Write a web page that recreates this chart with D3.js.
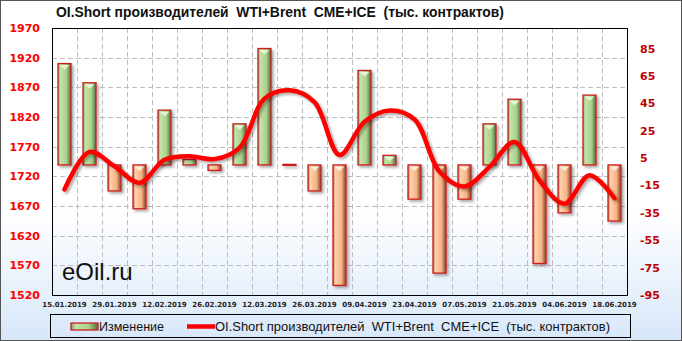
<!DOCTYPE html>
<html>
<head>
<meta charset="utf-8">
<script src="https://cdn.jsdelivr.net/npm/d3@7"></script>
<style>
  html, body { margin: 0; padding: 0; background: #fff; }
  svg { display: block; }
</style>
</head>
<body>
<div id="chart"></div>
<script>
// == DATA ==
const dates = ['15.01.2019', '22.01.2019', '29.01.2019', '05.02.2019', '12.02.2019', '19.02.2019',
  '26.02.2019', '05.03.2019', '12.03.2019', '19.03.2019', '26.03.2019', '02.04.2019', '09.04.2019',
  '16.04.2019', '23.04.2019', '30.04.2019', '07.05.2019', '14.05.2019', '21.05.2019', '28.05.2019',
  '04.06.2019', '11.06.2019', '18.06.2019'];
const change = [74, 60, -19, -32, 40, 4, -4, 30, 85, 0.4, -19, -88, 69, 7, -25, -79, -25, 30, 48, -72, -35, 51, -41];
const oiShort = [1698, 1761, 1737, 1709, 1748, 1754, 1749, 1768, 1851, 1865, 1845, 1756, 1812, 1831,
  1816, 1728, 1703, 1736, 1778, 1713, 1674, 1722, 1683];
const leftTicks = [1520, 1570, 1620, 1670, 1720, 1770, 1820, 1870, 1920, 1970];
const rightTicks = [-95, -75, -55, -35, -15, 5, 25, 45, 65, 85];
const xTickLabels = dates.filter((d, i) => i % 2 === 0);

const TITLE = 'OI.Short производителей  WTI+Brent  CME+ICE  (тыс. контрактов)';

// == CONFIG ==
const W = 682, H = 341;
const PLOT = { left: 52, right: 627, top: 28, bottom: 295 };
const BAR_W = 13;

const svg = d3.select('#chart').append('svg')
  .attr('width', W)
  .attr('height', H);

const defs = svg.append('defs');

const bg = defs.append('linearGradient').attr('id', 'bg').attr('x1', 0).attr('y1', 0).attr('x2', 0).attr('y2', 1);
bg.append('stop').attr('offset', '0%').attr('stop-color', '#ffffff');
bg.append('stop').attr('offset', '62%').attr('stop-color', '#ffffff');
bg.append('stop').attr('offset', '100%').attr('stop-color', '#d7e7f9');

function barGradient(id, edge, light, mid, dark) {
  const g = defs.append('linearGradient').attr('id', id).attr('x1', 0).attr('y1', 0).attr('x2', 1).attr('y2', 0);
  g.append('stop').attr('offset', '0%').attr('stop-color', edge);
  g.append('stop').attr('offset', '18%').attr('stop-color', light);
  g.append('stop').attr('offset', '65%').attr('stop-color', mid);
  g.append('stop').attr('offset', '100%').attr('stop-color', dark);
}
barGradient('gUp', '#7f9f66', '#c2e4a8', '#a9d08b', '#56693f');
barGradient('gDown', '#b5774f', '#ffd0ad', '#f8b384', '#7c4a2e');

const shadow = defs.append('filter').attr('id', 'shadow')
  .attr('x', '-50%').attr('y', '-20%').attr('width', '200%').attr('height', '140%');
shadow.append('feDropShadow')
  .attr('dx', 2).attr('dy', 2).attr('stdDeviation', 1.6)
  .attr('flood-color', '#000').attr('flood-opacity', 0.35);

// background + frame
svg.append('rect').attr('width', W).attr('height', H).attr('fill', 'url(#bg)');
svg.append('rect').attr('x', 0.5).attr('y', 0.5).attr('width', W - 1).attr('height', H - 1)
  .attr('fill', 'none').attr('stroke', '#555');

// == SCALES ==
const x = d3.scaleBand().domain(dates).range([PLOT.left, PLOT.right]).padding(0);
const yL = d3.scaleLinear().domain([1520, 1970]).range([PLOT.bottom, PLOT.top]);
const yR = d3.scaleLinear().domain([-95, 100]).range([PLOT.bottom, PLOT.top]);
const cx = i => x(dates[i]) + x.bandwidth() / 2;

// grid
const grid = svg.append('g')
  .attr('stroke', '#bdbdbd').attr('stroke-dasharray', '5,3').attr('stroke-width', 1);
grid.selectAll('line.h').data(leftTicks.slice(1, -1)).enter().append('line')
  .attr('x1', PLOT.left).attr('x2', PLOT.right)
  .attr('y1', d => Math.round(yL(d)) + 0.5).attr('y2', d => Math.round(yL(d)) + 0.5);
grid.selectAll('line.v').data(dates.slice(1)).enter().append('line')
  .attr('y1', PLOT.top).attr('y2', PLOT.bottom)
  .attr('x1', d => Math.round(x(d)) + 0.5).attr('x2', d => Math.round(x(d)) + 0.5);

// plot border
svg.append('rect')
  .attr('x', PLOT.left + 0.5).attr('y', PLOT.top + 0.5)
  .attr('width', PLOT.right - PLOT.left).attr('height', PLOT.bottom - PLOT.top)
  .attr('fill', 'none').attr('stroke', '#000').attr('stroke-width', 1);

// watermark
svg.append('text')
  .attr('x', 62).attr('y', 280)
  .attr('font-family', 'Liberation Sans, Arial, sans-serif')
  .attr('font-size', '24px')
  .attr('fill', '#111')
  .text('eOil.ru');

// == BARS ==
const barData = change.map((v, i) => ({ v, i }));
const bars = svg.append('g').attr('filter', 'url(#shadow)');
bars.selectAll('rect').data(barData).enter().append('rect')
  .attr('x', d => cx(d.i) - BAR_W / 2)
  .attr('width', BAR_W)
  .attr('y', d => d.v >= 0 ? yR(d.v) : yR(0))
  .attr('height', d => Math.max(1, Math.abs(yR(d.v) - yR(0))))
  .attr('fill', d => d.v >= 0 ? 'url(#gUp)' : 'url(#gDown)')
  .attr('stroke', '#cc1f1f')
  .attr('stroke-width', 1.3);

// small bevel highlight at bar tops
bars.selectAll('path.hl').data(barData.filter(d => Math.abs(yR(d.v) - yR(0)) > 6)).enter().append('path')
  .attr('d', d => {
    const c = cx(d.i);
    const top = d.v >= 0 ? yR(d.v) : yR(0);
    return `M${c - BAR_W / 2 + 1.5},${top + 1.5} L${c + BAR_W / 2 - 1.5},${top + 1.5} L${c},${top + 6} Z`;
  })
  .attr('fill', d => d.v >= 0 ? '#e9f7dd' : '#fff0e2')
  .attr('opacity', 0.9);

// == LINE ==
const line = d3.line()
  .x((d, i) => cx(i))
  .y(d => yL(d))
  .curve(d3.curveCatmullRom.alpha(0.5));

svg.append('path')
  .datum(oiShort)
  .attr('d', line)
  .attr('fill', 'none')
  .attr('stroke', '#ff0000')
  .attr('stroke-width', 4.5)
  .attr('stroke-linecap', 'round')
  .attr('filter', 'url(#shadow)');

// == AXES ==
const axisFont = 'DejaVu Sans, Verdana, sans-serif';

svg.append('g').selectAll('text').data(leftTicks).enter().append('text')
  .attr('x', 40).attr('y', d => yL(d) + 4)
  .attr('text-anchor', 'end')
  .attr('font-family', axisFont).attr('font-weight', 'bold').attr('font-size', '11px')
  .attr('fill', '#ff0000')
  .text(d => d);

svg.append('g').selectAll('text').data(rightTicks).enter().append('text')
  .attr('x', 640).attr('y', d => yR(d) + 4)
  .attr('text-anchor', 'start')
  .attr('font-family', axisFont).attr('font-weight', 'bold').attr('font-size', '11px')
  .attr('fill', '#c00000')
  .text(d => d);

svg.append('g').selectAll('text').data(xTickLabels).enter().append('text')
  .attr('x', d => x(d) + x.bandwidth() / 2).attr('y', 307)
  .attr('text-anchor', 'middle')
  .attr('font-family', axisFont).attr('font-weight', 'bold').attr('font-size', '7px')
  .attr('fill', '#222')
  .text(d => d);

// == TITLE ==
svg.append('text')
  .attr('x', 56).attr('y', 17)
  .attr('font-family', 'Liberation Sans, Arial, sans-serif')
  .attr('font-weight', 'bold').attr('font-size', '14px')
  .attr('fill', '#111')
  .attr('textLength', 448).attr('lengthAdjust', 'spacingAndGlyphs')
  .style('white-space', 'pre')
  .text(TITLE);

// == LEGEND ==
const lg = svg.append('g');
lg.append('rect')
  .attr('x', 50.5).attr('y', 314.5).attr('width', 580).attr('height', 23)
  .attr('fill', 'none').attr('stroke', '#000');
lg.append('rect')
  .attr('x', 71).attr('y', 323).attr('width', 27).attr('height', 7)
  .attr('fill', 'url(#gUp)').attr('stroke', '#cc1f1f').attr('stroke-width', 1.3);
lg.append('text')
  .attr('x', 99).attr('y', 331)
  .attr('font-family', 'Liberation Sans, Arial, sans-serif').attr('font-size', '13px')
  .attr('fill', '#111')
  .attr('textLength', 65).attr('lengthAdjust', 'spacingAndGlyphs')
  .text('Изменение');
lg.append('line')
  .attr('x1', 187).attr('x2', 215).attr('y1', 326.5).attr('y2', 326.5)
  .attr('stroke', '#ff0000').attr('stroke-width', 4.5);
lg.append('text')
  .attr('x', 215).attr('y', 331)
  .attr('font-family', 'Liberation Sans, Arial, sans-serif').attr('font-size', '13px')
  .attr('fill', '#111')
  .attr('textLength', 395).attr('lengthAdjust', 'spacingAndGlyphs')
  .style('white-space', 'pre')
  .text(TITLE);
</script>
</body>
</html>
